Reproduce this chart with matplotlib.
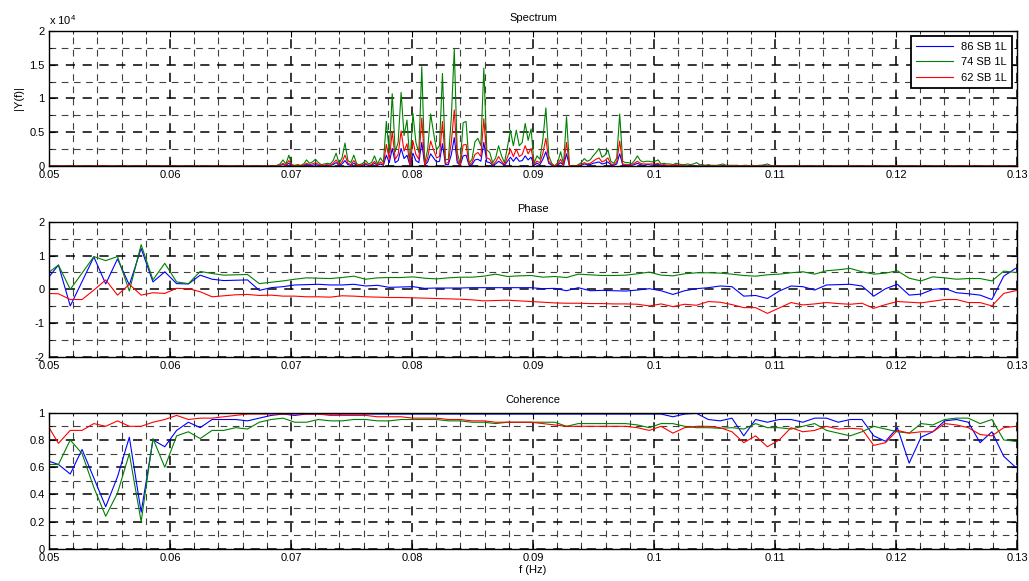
import numpy as np
import matplotlib
matplotlib.use("Agg")
from matplotlib import pyplot as plt
from matplotlib.ticker import MultipleLocator, FormatStrFormatter

plt.rcParams['font.family'] = ['Liberation Sans', 'DejaVu Sans']
plt.rcParams['mathtext.default'] = 'regular'

labels = ["86 SB 1L", "74 SB 1L", "62 SB 1L"]
colors = ["#0000ff", "#008000", "#ff0000"]

# spectrum bins (df = 1/4096 Hz), values in units of 1e4
spec_bins = np.arange(204, 534)
spec_first = 282  # first bin with any energy
spec_green = [
  0.01, 0.03, 0.09, 0.03, 0.16, 0.02, 0.01, 0.02, 0.01, 0.03,
  0.09, 0.04, 0.06, 0.10, 0.05, 0.02, 0.03, 0.04, 0.03, 0.08,
  0.19, 0.04, 0.12, 0.34, 0.08, 0.05, 0.16, 0.03, 0.02, 0.04,
  0.08, 0.03, 0.05, 0.15, 0.03, 0.12, 0.05, 0.66, 0.20, 1.07,
  0.21, 0.35, 1.09, 0.45, 0.68, 0.03, 0.78, 0.35, 0.20, 1.47,
  0.03, 0.25, 0.77, 0.49, 0.24, 0.30, 1.37, 0.09, 0.10, 0.72,
  1.73, 0.20, 0.03, 0.64, 0.66, 0.04, 0.10, 0.36, 0.41, 0.30,
  1.45, 0.24, 0.20, 0.05, 0.12, 0.30, 0.15, 0.05, 0.28, 0.53,
  0.30, 0.53, 0.30, 0.35, 0.63, 0.38, 0.55, 0.04, 0.15, 0.10,
  0.40, 0.86, 0.15, 0.04, 0.00, 0.05, 0.21, 0.03, 0.73, 0.00,
  0.01, 0.00, 0.02, 0.05, 0.11, 0.07, 0.09, 0.15, 0.20, 0.26,
  0.13, 0.16, 0.24, 0.07, 0.04, 0.12, 0.77, 0.07, 0.05, 0.05,
  0.03, 0.08, 0.15, 0.08, 0.06, 0.07, 0.07, 0.06, 0.07, 0.09,
  0.03, 0.04, 0.03, 0.03, 0.02, 0.04, 0.03, 0.02, 0.02, 0.03,
  0.02, 0.03, 0.05, 0.02, 0.02, 0.01, 0.02, 0.01, 0.01, 0.01,
  0.02, 0.03, 0.01, 0.01, 0.01, 0.01, 0.01, 0.00, 0.01, 0.01,
  0.00, 0.01, 0.00, 0.01, 0.01, 0.02, 0.03, 0.01, 0.00,
]
spec_red = [
  0.00, 0.01, 0.04, 0.01, 0.08, 0.01, 0.00, 0.01, 0.00, 0.01,
  0.04, 0.02, 0.03, 0.05, 0.02, 0.01, 0.01, 0.02, 0.01, 0.04,
  0.09, 0.02, 0.06, 0.16, 0.04, 0.02, 0.08, 0.01, 0.01, 0.02,
  0.04, 0.01, 0.02, 0.07, 0.01, 0.06, 0.02, 0.32, 0.10, 0.51,
  0.10, 0.17, 0.52, 0.22, 0.33, 0.01, 0.37, 0.17, 0.10, 0.71,
  0.01, 0.12, 0.37, 0.24, 0.12, 0.14, 0.66, 0.04, 0.05, 0.35,
  0.83, 0.10, 0.01, 0.31, 0.32, 0.02, 0.05, 0.17, 0.20, 0.14,
  0.70, 0.12, 0.10, 0.02, 0.06, 0.14, 0.07, 0.02, 0.13, 0.25,
  0.14, 0.25, 0.14, 0.17, 0.30, 0.18, 0.26, 0.02, 0.07, 0.05,
  0.19, 0.41, 0.07, 0.02, 0.00, 0.02, 0.10, 0.01, 0.35, 0.00,
  0.00, 0.00, 0.01, 0.02, 0.05, 0.03, 0.04, 0.07, 0.10, 0.12,
  0.06, 0.08, 0.12, 0.03, 0.02, 0.06, 0.37, 0.03, 0.02, 0.02,
  0.01, 0.04, 0.07, 0.04, 0.03, 0.03, 0.03, 0.03, 0.03, 0.04,
  0.01, 0.02, 0.01, 0.01, 0.01, 0.02, 0.01, 0.01,
]
spec_blue = [
  0.00, 0.01, 0.02, 0.01, 0.04, 0.00, 0.00, 0.00, 0.00, 0.01,
  0.02, 0.01, 0.01, 0.02, 0.01, 0.00, 0.01, 0.01, 0.01, 0.02,
  0.05, 0.01, 0.03, 0.08, 0.02, 0.01, 0.04, 0.01, 0.00, 0.01,
  0.02, 0.01, 0.01, 0.04, 0.01, 0.03, 0.01, 0.16, 0.05, 0.26,
  0.05, 0.08, 0.26, 0.11, 0.16, 0.01, 0.19, 0.08, 0.05, 0.35,
  0.01, 0.06, 0.18, 0.12, 0.06, 0.07, 0.33, 0.02, 0.02, 0.17,
  0.42, 0.05, 0.01, 0.15, 0.16, 0.01, 0.02, 0.09, 0.10, 0.07,
  0.35, 0.06, 0.05, 0.01, 0.03, 0.07, 0.04, 0.01, 0.07, 0.13,
  0.07, 0.13, 0.07, 0.08, 0.15, 0.09, 0.13, 0.01, 0.04, 0.02,
  0.10, 0.21, 0.04, 0.01, 0.00, 0.01, 0.05, 0.01, 0.18, 0.00,
  0.00, 0.00, 0.00, 0.01, 0.03, 0.02, 0.02, 0.04, 0.05, 0.06,
  0.03, 0.04, 0.06, 0.02, 0.01, 0.03, 0.18, 0.02, 0.01, 0.01,
  0.01, 0.02, 0.04, 0.02, 0.01, 0.02, 0.02, 0.01, 0.02, 0.02,
  0.01, 0.01,
]

# phase / coherence bins (df = 1/1024 Hz), bins 51..134
pc_bins = np.arange(51, 135)
phase_blue = [
  0.28, 0.72, -0.49, 0.23, 0.96, 0.16, 0.90, 0.13, 1.21, 0.22,
  0.52, 0.17, 0.16, 0.42, 0.30, 0.26, 0.27, 0.28, -0.03, 0.05,
  0.08, 0.13, 0.14, 0.15, 0.13, 0.13, 0.15, 0.10, 0.12, 0.06,
  0.07, 0.08, 0.03, 0.04, 0.04, 0.04, 0.05, 0.05, 0.05, 0.05,
  0.05, 0.05, 0.02, 0.03, -0.04, 0.05, -0.04, -0.03, -0.04, -0.05,
  -0.02, 0.02, -0.04, -0.15, -0.04, 0.02, 0.05, 0.10, 0.08, -0.20,
  -0.18, -0.27, -0.05, 0.10, 0.08, -0.02, 0.13, 0.14, 0.15, 0.10,
  -0.20, 0.02, 0.15, -0.17, -0.14, 0.00, 0.03, -0.10, -0.13, -0.17,
  -0.30, 0.39, 0.62, 0.55,
]
phase_green = [
  0.45, 0.72, 0.00, 0.48, 0.97, 0.85, 0.97, -0.05, 1.32, 0.28,
  0.77, 0.22, 0.17, 0.53, 0.47, 0.42, 0.43, 0.44, 0.17, 0.21,
  0.25, 0.30, 0.34, 0.33, 0.32, 0.35, 0.39, 0.30, 0.34, 0.35,
  0.35, 0.37, 0.33, 0.31, 0.34, 0.36, 0.36, 0.39, 0.45, 0.38,
  0.40, 0.41, 0.36, 0.38, 0.35, 0.45, 0.43, 0.41, 0.41, 0.42,
  0.46, 0.51, 0.42, 0.40, 0.46, 0.49, 0.49, 0.48, 0.45, 0.41,
  0.39, 0.43, 0.45, 0.49, 0.52, 0.45, 0.55, 0.58, 0.62, 0.52,
  0.45, 0.48, 0.55, 0.33, 0.25, 0.37, 0.34, 0.30, 0.32, 0.32,
  0.25, 0.54, 0.50, 0.50,
]
phase_red = [
  -0.12, -0.13, -0.30, -0.30, -0.02, 0.28, -0.17, 0.15, -0.17, -0.10,
  -0.12, 0.03, 0.02, -0.07, -0.22, -0.19, -0.16, -0.15, -0.18, -0.17,
  -0.20, -0.20, -0.22, -0.22, -0.23, -0.19, -0.20, -0.22, -0.23, -0.24,
  -0.24, -0.25, -0.26, -0.27, -0.28, -0.29, -0.31, -0.34, -0.33, -0.32,
  -0.34, -0.36, -0.38, -0.40, -0.41, -0.41, -0.42, -0.42, -0.43, -0.43,
  -0.44, -0.49, -0.43, -0.51, -0.44, -0.47, -0.36, -0.38, -0.45, -0.54,
  -0.54, -0.71, -0.55, -0.39, -0.46, -0.43, -0.39, -0.42, -0.44, -0.41,
  -0.56, -0.45, -0.36, -0.38, -0.40, -0.35, -0.30, -0.30, -0.39, -0.39,
  -0.49, -0.12, -0.04, -0.03,
]
coh_blue = [
  0.65, 0.62, 0.55, 0.73, 0.52, 0.31, 0.53, 0.82, 0.27, 0.80,
  0.75, 0.87, 0.93, 0.89, 0.95, 0.95, 0.95, 0.94, 0.96, 0.98,
  0.99, 0.98, 0.99, 0.99, 0.99, 0.99, 0.99, 0.99, 0.99, 0.99,
  0.99, 0.99, 0.99, 0.99, 0.99, 0.99, 0.99, 0.99, 0.99, 0.99,
  0.99, 0.99, 0.99, 0.99, 0.99, 0.99, 0.99, 0.99, 0.99, 0.99,
  0.99, 0.99, 0.99, 0.97, 0.99, 0.995, 0.95, 0.94, 0.96, 0.83,
  0.95, 0.93, 0.95, 0.95, 0.93, 0.96, 0.96, 0.93, 0.95, 0.95,
  0.83, 0.79, 0.89, 0.63, 0.82, 0.86, 0.94, 0.95, 0.93, 0.78,
  0.86, 0.68, 0.60, 0.65,
]
coh_green = [
  0.62, 0.62, 0.80, 0.70, 0.45, 0.24, 0.41, 0.70, 0.20, 0.81,
  0.60, 0.83, 0.86, 0.81, 0.87, 0.87, 0.89, 0.88, 0.93, 0.95,
  0.96, 0.93, 0.93, 0.95, 0.94, 0.94, 0.95, 0.95, 0.94, 0.94,
  0.95, 0.95, 0.95, 0.95, 0.94, 0.94, 0.93, 0.93, 0.92, 0.93,
  0.93, 0.93, 0.93, 0.93, 0.90, 0.92, 0.92, 0.92, 0.92, 0.92,
  0.91, 0.89, 0.92, 0.92, 0.90, 0.89, 0.89, 0.885, 0.89, 0.88,
  0.92, 0.89, 0.89, 0.88, 0.90, 0.92, 0.87, 0.85, 0.83, 0.86,
  0.90, 0.88, 0.86, 0.85, 0.92, 0.91, 0.95, 0.96, 0.96, 0.92,
  0.95, 0.80, 0.79, 0.79,
]
coh_red = [
  0.92, 0.775, 0.87, 0.87, 0.92, 0.90, 0.94, 0.90, 0.90, 0.93,
  0.95, 0.98, 0.95, 0.96, 0.96, 0.97, 0.98, 0.99, 0.99, 0.99,
  0.99, 0.99, 0.99, 0.99, 0.98, 0.98, 0.98, 0.98, 0.97, 0.97,
  0.97, 0.96, 0.96, 0.96, 0.95, 0.95, 0.94, 0.94, 0.93, 0.93,
  0.93, 0.93, 0.92, 0.91, 0.90, 0.90, 0.90, 0.90, 0.90, 0.90,
  0.89, 0.87, 0.90, 0.85, 0.89, 0.90, 0.90, 0.89, 0.86, 0.78,
  0.83, 0.75, 0.80, 0.89, 0.86, 0.87, 0.90, 0.88, 0.885, 0.88,
  0.76, 0.78, 0.87, 0.85, 0.86, 0.86, 0.92, 0.91, 0.89, 0.84,
  0.83, 0.89, 0.90, 0.90,
]


def pad_spectrum(vals):
  # zero outside the band that has energy
  out = np.zeros(len(spec_bins))
  i0 = spec_first - spec_bins[0]
  out[i0:i0 + len(vals)] = vals
  return out


def style_axes(ax, ylim, ymaj, ymin):
  ax.set_xlim(0.05, 0.13)
  ax.set_ylim(*ylim)
  ax.xaxis.set_major_locator(MultipleLocator(0.01))
  ax.xaxis.set_minor_locator(MultipleLocator(0.002))
  ax.yaxis.set_major_locator(MultipleLocator(ymaj))
  ax.yaxis.set_minor_locator(MultipleLocator(ymin))
  ax.xaxis.set_major_formatter(FormatStrFormatter('%g'))
  ax.yaxis.set_major_formatter(FormatStrFormatter('%g'))
  ax.grid(which='major', color='k', linestyle=(0, (6, 5)), linewidth=1.1)
  ax.grid(which='minor', color='0.25', linestyle=(0, (6, 5)), linewidth=0.8)
  ax.tick_params(which='both', direction='in', top=True, right=True,
                 labelsize=8, color='k')
  ax.tick_params(which='major', length=4, pad=3)
  ax.tick_params(which='minor', length=2)
  for s in ax.spines.values():
    s.set_linewidth(1.0)


fig = plt.figure(figsize=(10.29, 5.81), dpi=100)
ax1 = fig.add_axes([0.0476, 0.7143, 0.9407, 0.2324])
ax2 = fig.add_axes([0.0476, 0.3855, 0.9407, 0.2329])
ax3 = fig.add_axes([0.0476, 0.0551, 0.9407, 0.2346])

f_spec = spec_bins / 4096.0
for vals, c, lab in zip([spec_blue, spec_green, spec_red], colors, labels):
  ax1.plot(f_spec, pad_spectrum(vals), color=c, lw=0.8, label=lab)
style_axes(ax1, (0, 2), 0.5, 0.25)
ax1.set_title("Spectrum", fontsize=8, pad=7)
ax1.set_ylabel("|Y(f)|", fontsize=8, labelpad=4)
ax1.text(0.0, 1.03, r"x 10$^{4}$", transform=ax1.transAxes, fontsize=8,
         ha='left', va='bottom')
leg = ax1.legend(loc='upper right', fontsize=8, frameon=True, fancybox=False,
                 edgecolor='k', framealpha=1, handlelength=3.3,
                 handletextpad=0.7, borderaxespad=0.45, labelspacing=0.5,
                 borderpad=0.5)
leg.get_frame().set_linewidth(1.3)

f_pc = pc_bins / 1024.0
for vals, c in zip([phase_blue, phase_green, phase_red], colors):
  ax2.plot(f_pc, vals, color=c, lw=0.8)
style_axes(ax2, (-2, 2), 1, 0.5)
ax2.set_title("Phase", fontsize=8, pad=7)

for vals, c in zip([coh_blue, coh_green, coh_red], colors):
  ax3.plot(f_pc, vals, color=c, lw=0.8)
style_axes(ax3, (0, 1), 0.2, 0.1)
ax3.set_title("Coherence", fontsize=8, pad=7)
ax3.set_xlabel("f (Hz)", fontsize=8, labelpad=1)

fig.savefig("out.png", dpi=100)
